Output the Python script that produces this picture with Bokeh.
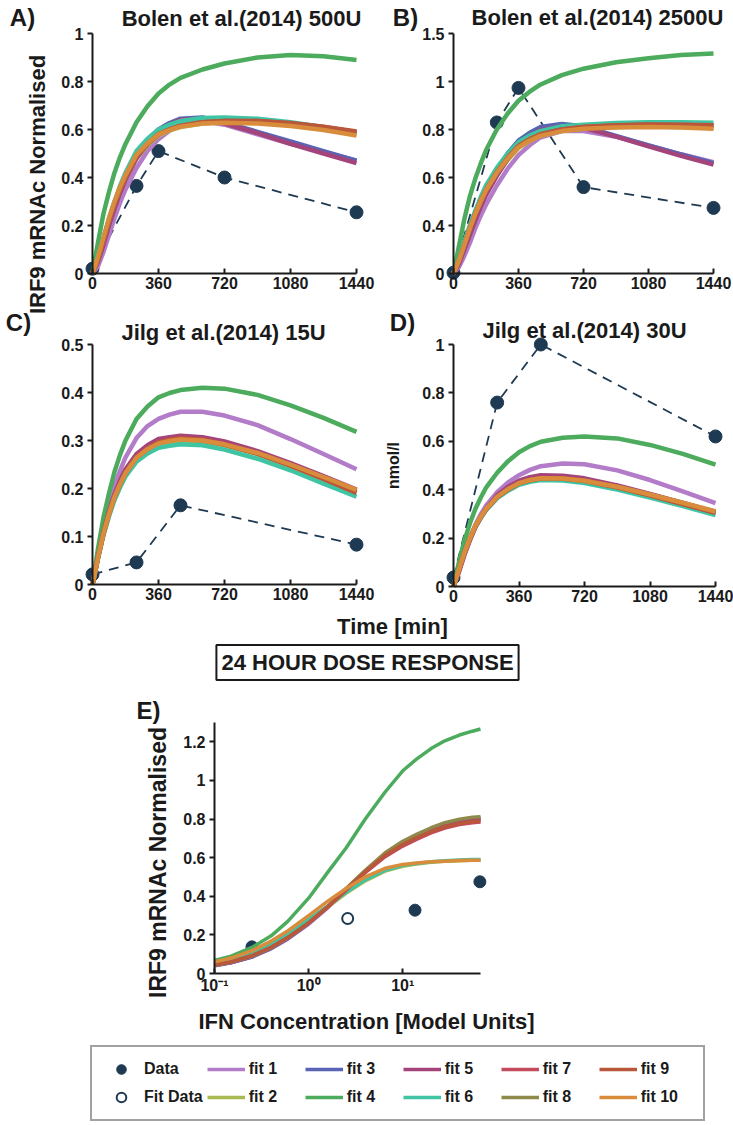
import math
from bokeh.plotting import figure
from bokeh.models import (Label, Legend, LegendItem, FixedTicker, Range1d,
                          LinearAxis, LogAxis, LogScale)
from bokeh.embed import file_html
from bokeh.resources import INLINE

# ---------------- data ----------------
fit_names = ["fit 1", "fit 2", "fit 3", "fit 4", "fit 5",
             "fit 6", "fit 7", "fit 8", "fit 9", "fit 10"]
fit_colors = ["#b27cc8", "#a8bb52", "#5a64b4", "#4cab5c", "#a3447a",
              "#3fc4a4", "#c44a5e", "#8f8a4c", "#b9573a", "#d98c3c"]
data_color = "#1e3a52"

time_grid = [0, 30, 60, 90, 120, 150, 180, 240, 300, 360, 420, 480, 600, 720, 900, 1080, 1260, 1440]

bolen500_t = [0, 240, 360, 720, 1440]
bolen500_data = [0.02, 0.365, 0.51, 0.40, 0.255]
bolen500_fits = [
    [0, 0.03, 0.09, 0.16, 0.23, 0.295, 0.35, 0.44, 0.51, 0.56, 0.595, 0.62, 0.635, 0.62, 0.58, 0.54, 0.505, 0.47],
    [0, 0.06, 0.14, 0.22, 0.29, 0.35, 0.40, 0.48, 0.535, 0.575, 0.596, 0.61, 0.625, 0.63, 0.63, 0.62, 0.605, 0.58],
    [0, 0.06, 0.14, 0.22, 0.29, 0.355, 0.41, 0.50, 0.557, 0.60, 0.627, 0.645, 0.65, 0.63, 0.59, 0.55, 0.51, 0.47],
    [0, 0.13, 0.25, 0.34, 0.42, 0.485, 0.54, 0.63, 0.697, 0.75, 0.787, 0.815, 0.85, 0.875, 0.90, 0.91, 0.905, 0.89],
    [0, 0.05, 0.12, 0.20, 0.27, 0.335, 0.39, 0.48, 0.542, 0.59, 0.62, 0.64, 0.645, 0.625, 0.585, 0.54, 0.50, 0.46],
    [0, 0.07, 0.15, 0.23, 0.30, 0.365, 0.42, 0.51, 0.562, 0.60, 0.62, 0.635, 0.648, 0.65, 0.645, 0.63, 0.61, 0.585],
    [0, 0.06, 0.14, 0.22, 0.29, 0.35, 0.40, 0.49, 0.54, 0.58, 0.60, 0.615, 0.63, 0.635, 0.635, 0.625, 0.61, 0.59],
    [0, 0.06, 0.14, 0.22, 0.29, 0.35, 0.40, 0.49, 0.54, 0.58, 0.60, 0.615, 0.63, 0.635, 0.632, 0.622, 0.605, 0.585],
    [0, 0.06, 0.14, 0.22, 0.29, 0.35, 0.40, 0.49, 0.54, 0.58, 0.60, 0.615, 0.63, 0.635, 0.635, 0.627, 0.612, 0.592],
    [0, 0.07, 0.15, 0.23, 0.30, 0.36, 0.41, 0.495, 0.543, 0.58, 0.598, 0.612, 0.625, 0.628, 0.625, 0.615, 0.598, 0.575],
]

bolen2500_t = [0, 240, 360, 720, 1440]
bolen2500_data = [0.005, 0.944, 1.16, 0.54, 0.41]
bolen2500_fits = [
    [0, 0.04, 0.11, 0.19, 0.28, 0.36, 0.43, 0.55, 0.655, 0.74, 0.80, 0.85, 0.89, 0.89, 0.855, 0.80, 0.745, 0.695],
    [0, 0.07, 0.17, 0.27, 0.36, 0.44, 0.51, 0.62, 0.71, 0.785, 0.828, 0.86, 0.89, 0.905, 0.915, 0.918, 0.915, 0.91],
    [0, 0.08, 0.18, 0.28, 0.37, 0.455, 0.53, 0.65, 0.75, 0.83, 0.878, 0.915, 0.935, 0.92, 0.86, 0.80, 0.745, 0.69],
    [0, 0.17, 0.34, 0.48, 0.59, 0.685, 0.77, 0.90, 1.0, 1.08, 1.135, 1.18, 1.24, 1.28, 1.32, 1.345, 1.365, 1.375],
    [0, 0.06, 0.15, 0.24, 0.33, 0.415, 0.49, 0.61, 0.715, 0.80, 0.855, 0.895, 0.92, 0.91, 0.855, 0.795, 0.735, 0.68],
    [0, 0.09, 0.20, 0.30, 0.39, 0.475, 0.55, 0.66, 0.75, 0.82, 0.86, 0.89, 0.92, 0.93, 0.94, 0.945, 0.945, 0.942],
    [0, 0.08, 0.18, 0.28, 0.37, 0.45, 0.52, 0.63, 0.72, 0.795, 0.838, 0.87, 0.90, 0.915, 0.925, 0.93, 0.928, 0.925],
    [0, 0.08, 0.18, 0.28, 0.37, 0.45, 0.52, 0.635, 0.725, 0.80, 0.84, 0.87, 0.90, 0.915, 0.925, 0.928, 0.925, 0.92],
    [0, 0.08, 0.18, 0.28, 0.37, 0.45, 0.52, 0.63, 0.72, 0.795, 0.837, 0.868, 0.90, 0.915, 0.927, 0.932, 0.93, 0.927],
    [0, 0.08, 0.18, 0.28, 0.37, 0.45, 0.52, 0.63, 0.718, 0.79, 0.83, 0.86, 0.89, 0.905, 0.912, 0.915, 0.912, 0.905],
]

jilg15_t = [0, 240, 480, 1440]
jilg15_data = [0.021, 0.046, 0.165, 0.083]
jilg15_fits = [
    [0, 0.06, 0.12, 0.165, 0.205, 0.237, 0.265, 0.305, 0.33, 0.345, 0.354, 0.36, 0.36, 0.352, 0.332, 0.303, 0.272, 0.24],
    [0, 0.055, 0.105, 0.145, 0.18, 0.207, 0.23, 0.262, 0.28, 0.292, 0.297, 0.30, 0.298, 0.29, 0.272, 0.248, 0.222, 0.196],
    [0, 0.056, 0.107, 0.148, 0.183, 0.21, 0.233, 0.265, 0.283, 0.296, 0.301, 0.304, 0.302, 0.294, 0.275, 0.25, 0.223, 0.196],
    [0, 0.075, 0.14, 0.19, 0.235, 0.27, 0.30, 0.345, 0.371, 0.39, 0.399, 0.405, 0.41, 0.408, 0.395, 0.373, 0.347, 0.318],
    [0, 0.057, 0.11, 0.152, 0.188, 0.216, 0.24, 0.272, 0.29, 0.303, 0.307, 0.31, 0.307, 0.298, 0.278, 0.253, 0.226, 0.198],
    [0, 0.054, 0.103, 0.142, 0.176, 0.202, 0.225, 0.256, 0.273, 0.285, 0.289, 0.292, 0.29, 0.281, 0.262, 0.238, 0.21, 0.183],
    [0, 0.056, 0.107, 0.148, 0.183, 0.21, 0.233, 0.266, 0.284, 0.297, 0.302, 0.305, 0.302, 0.293, 0.274, 0.249, 0.221, 0.193],
    [0, 0.055, 0.106, 0.147, 0.182, 0.209, 0.232, 0.264, 0.282, 0.295, 0.30, 0.303, 0.30, 0.291, 0.272, 0.247, 0.22, 0.192],
    [0, 0.056, 0.107, 0.148, 0.183, 0.21, 0.233, 0.265, 0.283, 0.296, 0.301, 0.304, 0.301, 0.292, 0.273, 0.248, 0.22, 0.191],
    [0, 0.056, 0.107, 0.147, 0.182, 0.209, 0.232, 0.264, 0.282, 0.294, 0.299, 0.302, 0.30, 0.292, 0.274, 0.25, 0.224, 0.197],
]

jilg30_t = [0, 240, 480, 1440]
jilg30_data = [0.037, 0.76, 1.0, 0.62]
jilg30_fits = [
    [0, 0.07, 0.14, 0.20, 0.255, 0.298, 0.335, 0.39, 0.43, 0.46, 0.482, 0.497, 0.508, 0.505, 0.48, 0.44, 0.393, 0.345],
    [0, 0.07, 0.14, 0.20, 0.25, 0.288, 0.32, 0.37, 0.402, 0.425, 0.438, 0.445, 0.445, 0.437, 0.412, 0.38, 0.345, 0.31],
    [0, 0.065, 0.135, 0.195, 0.245, 0.284, 0.318, 0.37, 0.403, 0.428, 0.442, 0.45, 0.45, 0.44, 0.413, 0.38, 0.343, 0.305],
    [0, 0.10, 0.19, 0.26, 0.32, 0.368, 0.41, 0.47, 0.518, 0.555, 0.58, 0.598, 0.615, 0.62, 0.612, 0.585, 0.548, 0.504],
    [0, 0.06, 0.13, 0.19, 0.245, 0.286, 0.322, 0.377, 0.412, 0.437, 0.452, 0.46, 0.458, 0.447, 0.418, 0.383, 0.345, 0.307],
    [0, 0.07, 0.14, 0.198, 0.247, 0.284, 0.316, 0.365, 0.396, 0.42, 0.433, 0.44, 0.438, 0.428, 0.401, 0.368, 0.332, 0.295],
    [0, 0.068, 0.138, 0.198, 0.248, 0.287, 0.32, 0.37, 0.402, 0.427, 0.44, 0.448, 0.447, 0.438, 0.411, 0.378, 0.342, 0.305],
    [0, 0.069, 0.139, 0.199, 0.249, 0.287, 0.32, 0.37, 0.402, 0.426, 0.439, 0.446, 0.445, 0.436, 0.41, 0.377, 0.342, 0.306],
    [0, 0.068, 0.138, 0.198, 0.248, 0.287, 0.32, 0.37, 0.402, 0.427, 0.44, 0.447, 0.446, 0.437, 0.41, 0.377, 0.341, 0.304],
    [0, 0.07, 0.14, 0.20, 0.25, 0.288, 0.321, 0.371, 0.403, 0.427, 0.44, 0.447, 0.446, 0.437, 0.412, 0.38, 0.346, 0.31],
]

dose_grid = [0.1, 0.15, 0.25, 0.4, 0.6, 1.0, 1.6, 2.5, 4.0, 6.5, 10, 14, 20, 28, 40, 55, 67]
dose_data_x = [0.25, 13.5, 66]
dose_data_y = [0.138, 0.328, 0.475]
dose_fitdata_x = [2.6]
dose_fitdata_y = [0.285]
dose_fits = [
    [0.04, 0.055, 0.085, 0.128, 0.178, 0.255, 0.34, 0.43, 0.525, 0.615, 0.675, 0.71, 0.745, 0.771, 0.788, 0.797, 0.80],
    [0.055, 0.072, 0.105, 0.15, 0.2, 0.275, 0.345, 0.415, 0.48, 0.53, 0.555, 0.567, 0.576, 0.581, 0.584, 0.586, 0.586],
    [0.04, 0.055, 0.085, 0.13, 0.18, 0.26, 0.345, 0.435, 0.53, 0.62, 0.68, 0.715, 0.748, 0.774, 0.791, 0.801, 0.805],
    [0.068, 0.09, 0.135, 0.195, 0.27, 0.39, 0.525, 0.65, 0.80, 0.94, 1.05, 1.11, 1.165, 1.205, 1.235, 1.255, 1.266],
    [0.042, 0.057, 0.088, 0.132, 0.182, 0.26, 0.345, 0.435, 0.53, 0.618, 0.677, 0.712, 0.745, 0.77, 0.787, 0.797, 0.80],
    [0.056, 0.074, 0.108, 0.155, 0.205, 0.28, 0.35, 0.42, 0.485, 0.535, 0.56, 0.57, 0.579, 0.584, 0.588, 0.59, 0.59],
    [0.045, 0.06, 0.092, 0.136, 0.186, 0.262, 0.345, 0.432, 0.522, 0.605, 0.66, 0.695, 0.728, 0.753, 0.771, 0.781, 0.785],
    [0.043, 0.058, 0.09, 0.134, 0.184, 0.262, 0.348, 0.44, 0.535, 0.625, 0.685, 0.721, 0.755, 0.781, 0.799, 0.809, 0.812],
    [0.044, 0.06, 0.092, 0.136, 0.186, 0.262, 0.346, 0.436, 0.528, 0.612, 0.668, 0.703, 0.735, 0.76, 0.777, 0.787, 0.79],
    [0.06, 0.08, 0.118, 0.168, 0.22, 0.30, 0.375, 0.44, 0.5, 0.545, 0.565, 0.572, 0.579, 0.582, 0.585, 0.586, 0.586],
]

time_ticks = [0, 360, 720, 1080, 1440]
time_tick_labels = ["0", "360", "720", "1080", "1440"]
a_yticks = [0, 0.2, 0.4, 0.6, 0.8, 1]
a_ytick_labels = ["0", "0.2", "0.4", "0.6", "0.8", "1"]
b_yticks = [0, 0.3, 0.6, 0.9, 1.2, 1.5]
b_ytick_labels = ["0", "0.4", "0.6", "0.8", "1", "1.5"]
c_yticks = [0, 0.1, 0.2, 0.3, 0.4, 0.5]
c_ytick_labels = ["0", "0.1", "0.2", "0.3", "0.4", "0.5"]
d_yticks = [0, 0.2, 0.4, 0.6, 0.8, 1]
d_ytick_labels = ["0", "0.2", "0.4", "0.6", "0.8", "1"]
e_yticks = [0, 0.2, 0.4, 0.6, 0.8, 1, 1.2]
e_ytick_labels = ["0", "0.2", "0.4", "0.6", "0.8", "1", "1.2"]
e_xticks = [0.1, 1, 10]
e_xtick_labels = ["10\u207b\u00b9", "10\u2070", "10\u00b9"]

# ---------------- canvas ----------------
FONT = "Liberation Sans"
INK = "#1a1a1a"
W, H = 733, 1125

p = figure(width=W, height=H, x_range=Range1d(0, W), y_range=Range1d(0, H),
           x_axis_location=None, y_axis_location=None,
           output_backend="svg", toolbar_location=None,
           min_border=0, min_border_left=0, min_border_right=0,
           min_border_top=0, min_border_bottom=0)
p.outline_line_color = None
p.background_fill_color = "white"
p.border_fill_color = "white"
for g in p.grid:
    g.visible = False

# panel frames in page pixels: (left, top, right, bottom) and data ranges
panels = {
    "A": dict(box=(92, 33, 356, 273), xr=(0, 1440), yr=(0, 1), xlog=False),
    "B": dict(box=(453, 33, 713, 273), xr=(0, 1440), yr=(0, 1.5), xlog=False),
    "C": dict(box=(92, 344, 356, 584), xr=(0, 1440), yr=(0, 0.5), xlog=False),
    "D": dict(box=(453, 344, 715, 586), xr=(0, 1440), yr=(0, 1), xlog=False),
    "E": dict(box=(214, 722, 480, 973), xr=(0.1, 67), yr=(0, 1.3), xlog=True),
}

ex_r, ey_r, ex_s = {}, {}, {}
for name, pn in panels.items():
    L, T, R, B = pn["box"]
    x0, x1 = pn["xr"]
    y0, y1 = pn["yr"]
    if pn["xlog"]:
        lx0, lx1 = math.log10(x0), math.log10(x1)
        k = (lx1 - lx0) / (R - L)
        ex_r[name] = Range1d(10 ** (lx0 - L * k), 10 ** (lx1 + (W - R) * k))
        ex_s[name] = LogScale()
    else:
        k = (x1 - x0) / (R - L)
        ex_r[name] = Range1d(x0 - L * k, x1 + (W - R) * k)
    ky = (y1 - y0) / (B - T)
    ey_r[name] = Range1d(y0 - (H - B) * ky, y1 + T * ky)
p.extra_x_ranges = ex_r
p.extra_y_ranges = ey_r
p.extra_x_scales = ex_s


def overrides(ticks, labels):
    d = {}
    for t, l in zip(ticks, labels):
        d[t] = l
        d[f"{t:g}"] = l
    return d


def style(ax):
    ax.axis_line_width = 2
    ax.axis_line_color = INK
    ax.major_tick_line_width = 2
    ax.major_tick_line_color = INK
    ax.minor_tick_line_color = None
    ax.major_label_text_font = FONT
    ax.major_label_text_font_style = "bold"
    ax.major_label_text_font_size = "16px"
    ax.major_label_text_color = INK


def add_axes(name, xticks, xlabels, yticks, ylabels):
    pn = panels[name]
    Axis = LogAxis if pn["xlog"] else LinearAxis
    xa = Axis(x_range_name=name, y_range_name=name, fixed_location=pn["yr"][0],
              bounds=pn["xr"], ticker=FixedTicker(ticks=xticks),
              major_label_overrides=overrides(xticks, xlabels))
    style(xa)
    xa.major_tick_in = 5
    xa.major_tick_out = 0
    xa.major_label_standoff = 3
    p.add_layout(xa, "below")
    ya = LinearAxis(x_range_name=name, y_range_name=name, fixed_location=pn["xr"][0],
                    bounds=pn["yr"], ticker=FixedTicker(ticks=yticks),
                    major_label_overrides=overrides(yticks, ylabels))
    style(ya)
    ya.major_tick_in = 0
    ya.major_tick_out = 5
    ya.major_label_standoff = 4
    p.add_layout(ya, "left")


def txt(px, py, text, size, angle=0.0, **kw):
    p.add_layout(Label(x=px, y=H - py, x_units="screen", y_units="screen", text=text,
                       text_font=FONT, text_font_style="bold", text_font_size=size,
                       text_align="center", text_baseline="middle", text_color=INK,
                       angle=angle, **kw))


def time_panel(name, t, data, fits):
    kw = dict(x_range_name=name, y_range_name=name)
    p.line(t, data, line_color=data_color, line_width=1.8, line_dash="10 7", **kw)
    p.scatter(t, data, size=13, fill_color=data_color, line_color=data_color, **kw)
    for vals, c in zip(fits, fit_colors):
        p.line(time_grid, vals, line_color=c, line_width=4.5, line_join="round", **kw)


# ---------------- panels A-D ----------------
time_panel("A", bolen500_t, bolen500_data, bolen500_fits)
add_axes("A", time_ticks, time_tick_labels, a_yticks, a_ytick_labels)
time_panel("B", bolen2500_t, bolen2500_data, bolen2500_fits)
add_axes("B", time_ticks, time_tick_labels, b_yticks, b_ytick_labels)
time_panel("C", jilg15_t, jilg15_data, jilg15_fits)
add_axes("C", time_ticks, time_tick_labels, c_yticks, c_ytick_labels)
time_panel("D", jilg30_t, jilg30_data, jilg30_fits)
add_axes("D", time_ticks, time_tick_labels, d_yticks, d_ytick_labels)

# ---------------- panel E ----------------
ekw = dict(x_range_name="E", y_range_name="E")
r_data = p.scatter(dose_data_x, dose_data_y, size=12, fill_color=data_color,
                   line_color=data_color, **ekw)
r_fit = p.scatter(dose_fitdata_x, dose_fitdata_y, size=11, fill_color="white",
                  line_color=data_color, line_width=2, **ekw)
e_lines = []
for vals, c in zip(dose_fits, fit_colors):
    e_lines.append(p.line(dose_grid, vals, line_color=c, line_width=3.5,
                          line_join="round", **ekw))
add_axes("E", e_xticks, e_xtick_labels, e_yticks, e_ytick_labels)

# ---------------- texts ----------------
txt(22, 17, "A)", "24px")
txt(241, 18, "Bolen et al.(2014) 500U", "22px")
txt(405, 17, "B)", "24px")
txt(597, 17, "Bolen et al.(2014) 2500U", "22px")
txt(37, 184, "IRF9 mRNAc Normalised", "22px", angle=math.pi / 2)
txt(18, 322, "C)", "24px")
txt(223, 332, "Jilg et al.(2014) 15U", "22px")
txt(402, 322, "D)", "24px")
txt(584, 330, "Jilg et al.(2014) 30U", "22px")
txt(393, 465, "nmol/l", "16px", angle=math.pi / 2)
txt(392, 626, "Time [min]", "22px")
txt(367, 662, "24 HOUR DOSE RESPONSE", "22px",
    border_line_color=INK, border_line_width=2, background_fill_color="white", padding=5)
txt(148, 710, "E)", "24px")
txt(157, 862, "IRF9 mRNAc Normalised", "23px", angle=math.pi / 2)
txt(366, 1021, "IFN Concentration [Model Units]", "22px")

# ---------------- legend ----------------
items = [LegendItem(label="Data", renderers=[r_data]),
         LegendItem(label="Fit Data", renderers=[r_fit])]
items += [LegendItem(label=n, renderers=[r]) for n, r in zip(fit_names, e_lines)]
legend = Legend(items=items, location=(90, H - 1121), orientation="vertical", nrows=2,
                glyph_width=38, glyph_height=24, label_height=24, label_width=52,
                spacing=4, padding=10, margin=0, label_standoff=4,
                border_line_color="#444444", border_line_width=2,
                background_fill_color="white", background_fill_alpha=1.0,
                label_text_font=FONT, label_text_font_style="bold",
                label_text_font_size="16px", label_text_color=INK)
p.add_layout(legend)

with open("out.html", "w") as f:
    f.write(file_html(p, INLINE))
